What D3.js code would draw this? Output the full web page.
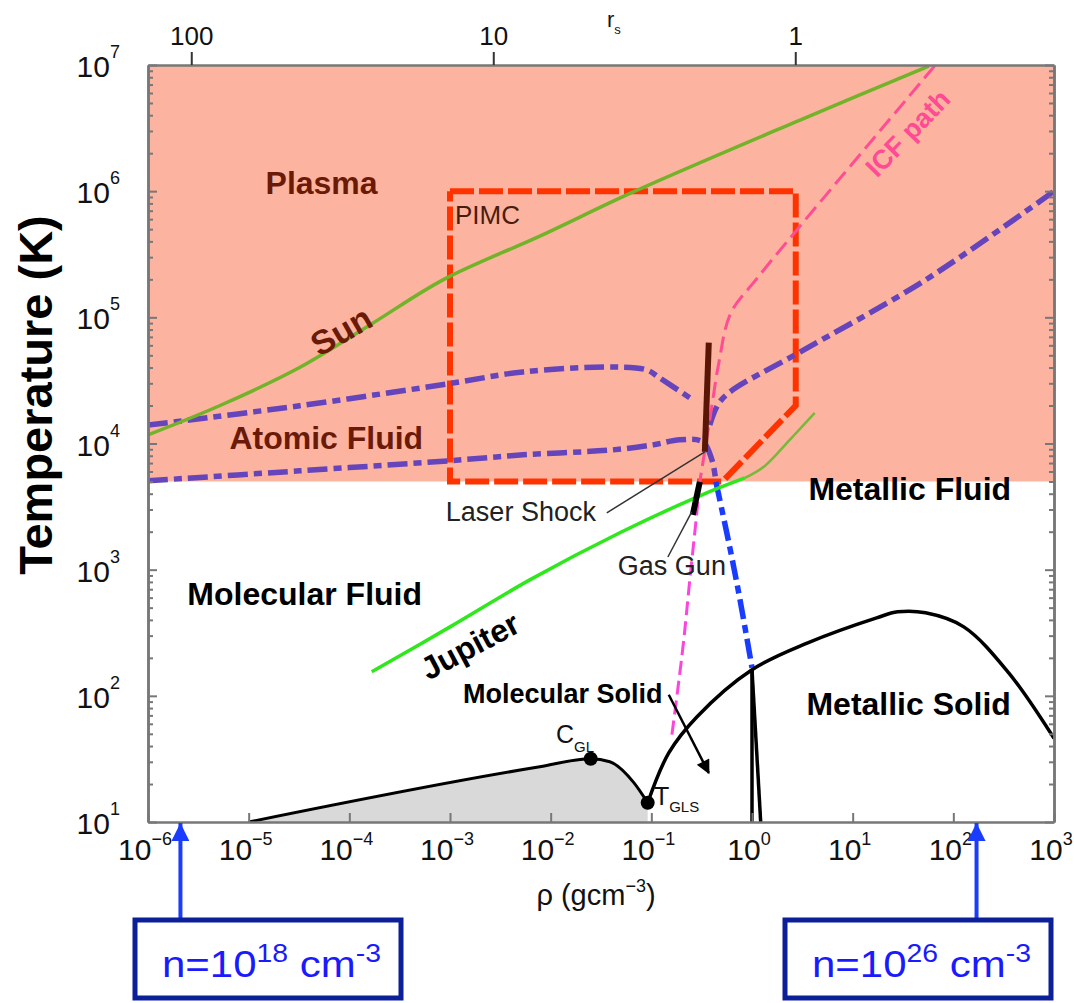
<!DOCTYPE html>
<html>
<head>
<meta charset="utf-8">
<script src="https://cdn.jsdelivr.net/npm/d3@7"></script>
<style>
    body { margin: 0; background: #fff; }
    svg { display: block; font-family: "Liberation Sans", Arial, Helvetica, sans-serif; }
    .brown { fill: #6b1a08; font-weight: bold; font-size: 32px; }
    .bold { fill: #000; font-weight: bold; font-size: 32px; }
    .note { fill: #222; font-size: 26px; }
</style>
</head>
<body>
<div id="phase"></div>
<script>
// axis ticks
var rhoTicks = [1e-6, 1e-5, 1e-4, 1e-3, 1e-2, 1e-1, 1e0, 1e1, 1e2, 1e3];
var tempTicks = [1e1, 1e2, 1e3, 1e4, 1e5, 1e6, 1e7];
var rsTicks = [100, 10, 1];
var rsRho = 2.69;           // rho (g/cc) of hydrogen at rs = 1
var plasmaT = 5000;         // bottom of the shaded plasma / atomic region

// curves, [rho (g/cc), T (K)]
var sunPath = [[1e-6, 1.17e4], [5.2e-6, 2.0e4], [3.2e-5, 4.0e4], [1.6e-4, 8.7e4], [8.7e-4, 2.0e5],
    [7.8e-3, 4.4e5], [0.067, 9.9e5], [3.0, 3.66e6], [57, 9.8e6]];
var jupiterPath = [[1.67e-4, 155], [1.0e-3, 352], [6.2e-3, 830], [0.0486, 1960], [0.303, 3850], [0.85, 5330]];
var jupiterCore = [[0.85, 5330], [1.34, 6640], [2.37, 1.07e4], [4.2, 1.75e4]];
var pimcBox = [[1e-3, 1e6], [2.72, 1e6], [2.72, 2.0e4], [0.51, 5000], [1e-3, 5000], [1e-3, 1e6]];
var icfPath = [[65, 9.8e6], [2.79, 4.93e5], [1.09, 1.98e5], [0.615, 1.08e5], [0.468, 4.35e4],
    [0.39, 1.75e4], [0.332, 7830], [0.303, 4970]];
var icfLow = [[0.303, 4970], [0.283, 2820], [0.241, 830], [0.21, 278], [0.183, 112], [0.16, 49]];
var dissocUpper = [[1e-6, 1.40e4], [3.2e-5, 1.99e4], [9.5e-4, 2.97e4], [5.3e-3, 3.69e4], [0.0415, 4.04e4],
    [0.090, 3.83e4], [0.121, 3.31e4], [0.258, 2.22e4]];
var dissocLower = [[1e-6, 5060], [3.2e-5, 6070], [9.5e-4, 7280], [5.3e-3, 8130], [0.0415, 8900],
    [0.1035, 9750], [0.192, 1.07e4], [0.324, 1.03e4], [0.40, 7410], [0.438, 4970]];
var metalLine = [[0.438, 4970], [0.60, 1520], [0.76, 577], [1.0, 167]];
var ionLine = [[0.381, 1.40e4], [0.457, 2.02e4], [0.603, 2.56e4], [2.99, 5.3e4], [53, 1.98e5], [1000, 1e6]];
var meltCurve = [[0.092, 14.2], [0.149, 35.3], [0.283, 68], [1.0, 161], [3.58, 263], [17.3, 415],
    [28, 463], [53, 455], [127, 352], [355, 152], [1000, 46]];
var coexCurve = [[1e-5, 10], [7.8e-3, 27.4], [0.025, 31.7], [0.0387, 30], [0.067, 20.5], [0.092, 14.2]];
var wedgeLeft = [[1.0, 161], [1.0, 10]];
var wedgeRight = [[1.0, 161], [1.22, 10]];
var laserShock = [[0.372, 6.3e4], [0.34, 8600]];
var gasGun = [[0.303, 4970], [0.258, 2720]];
var critPoints = [[0.025, 31.7], [0.092, 14.2]];
var densityMarks = [2.1e-6, 170];   // n = 1e18 and 1e26 cm^-3

var margin = {top: 65, right: 20, bottom: 181, left: 148};
var width = 1074 - margin.left - margin.right,
    height = 1003 - margin.top - margin.bottom;

var root = d3.select("#phase")
    .append("svg")
    .attr("width", 1074)
    .attr("height", 1003);
var svg = root.append("g")
    .attr("transform", "translate(" + margin.left + "," + margin.top + ")");

var x = d3.scaleLog().domain([1e-6, 1e3]).range([0, width]);
var y = d3.scaleLog().domain([10, 1e7]).range([height, 0]);

var defs = root.append("defs");
defs.append("clipPath").attr("id", "clip")
    .append("rect").attr("width", width).attr("height", height);
defs.append("marker").attr("id", "headBlack")
    .attr("viewBox", "0 0 10 10").attr("refX", 9).attr("refY", 5)
    .attr("markerUnits", "userSpaceOnUse").attr("markerWidth", 18).attr("markerHeight", 14)
    .attr("orient", "auto")
    .append("path").attr("d", "M0,0L10,5L0,10z").attr("fill", "#000");
defs.append("marker").attr("id", "headBlue")
    .attr("viewBox", "0 0 10 10").attr("refX", 10).attr("refY", 5)
    .attr("markerUnits", "userSpaceOnUse").attr("markerWidth", 18).attr("markerHeight", 18)
    .attr("orient", "auto")
    .append("path").attr("d", "M0,0L10,5L0,10z").attr("fill", "#1a3cff");

// shaded plasma/atomic region
svg.append("rect")
    .attr("x", 0).attr("y", 0)
    .attr("width", width)
    .attr("height", y(plasmaT))
    .attr("fill", "#fcb4a0");

var plot = svg.append("g").attr("clip-path", "url(#clip)");

var line = d3.line().x(function (d) { return x(d[0]); }).y(function (d) { return y(d[1]); });
var smooth = d3.line().x(function (d) { return x(d[0]); }).y(function (d) { return y(d[1]); })
    .curve(d3.curveCatmullRom.alpha(0.5));

// gas-liquid coexistence (grey)
plot.append("path")
    .datum(coexCurve)
    .attr("d", d3.area().x(function (d) { return x(d[0]); }).y0(height)
        .y1(function (d) { return y(d[1]); }).curve(d3.curveMonotoneX))
    .attr("fill", "#d9d9d9");
plot.append("path")
    .datum(coexCurve)
    .attr("d", line.curve(d3.curveMonotoneX))
    .attr("fill", "none").attr("stroke", "#000").attr("stroke-width", 3);
line.curve(d3.curveLinear);

function draw(data, gen, color, w, dash) {
    plot.append("path")
        .datum(data)
        .attr("d", gen)
        .attr("fill", "none")
        .attr("stroke", color)
        .attr("stroke-width", w)
        .attr("stroke-dasharray", dash || null);
}

draw(pimcBox, line, "#ff3300", 6, "24,5");
draw(dissocUpper, smooth, "#6644bb", 5.5, "20,6,8,6");
draw(dissocLower, smooth, "#6644bb", 5.5, "20,6,8,6");
draw(ionLine, smooth, "#6644bb", 5.5, "20,6,8,6");
draw(metalLine, smooth, "#1a3cff", 5.5, "20,6,8,6");
draw(sunPath, smooth, "#72b32a", 3.5);
draw(jupiterPath, smooth, "#2ee81c", 3.5);
draw(jupiterCore, smooth, "#78b83a", 2.5);
draw(icfPath, smooth, "#ff4d94", 3, "16,7");
draw(icfLow, smooth, "#ff44dd", 3, "14,6");
draw(meltCurve, smooth, "#000", 3.5);
draw(wedgeLeft, line, "#000", 3.5);
draw(wedgeRight, line, "#000", 3.5);
draw(laserShock, line, "#5a1505", 6);
draw(gasGun, line, "#000", 6);

plot.selectAll("circle.crit")
    .data(critPoints)
    .enter()
    .append("circle")
    .attr("class", "crit")
    .attr("cx", function (d) { return x(d[0]); })
    .attr("cy", function (d) { return y(d[1]); })
    .attr("r", 7)
    .attr("fill", "#000");

// leader lines
svg.append("line")
    .attr("x1", x(0.34)).attr("y1", y(8600))
    .attr("x2", x(0.0361)).attr("y2", y(2820))
    .attr("stroke", "#333").attr("stroke-width", 1.5);
svg.append("line")
    .attr("x1", x(0.252)).attr("y1", y(2870))
    .attr("x2", x(0.146)).attr("y2", y(1260))
    .attr("stroke", "#333").attr("stroke-width", 1.5);
// molecular solid arrow
svg.append("line")
    .attr("x1", x(0.149)).attr("y1", y(102))
    .attr("x2", x(0.372)).attr("y2", y(24.5))
    .attr("stroke", "#000").attr("stroke-width", 2.5)
    .attr("marker-end", "url(#headBlack)");

// axes: ticks point inward
function styleAxis(g) {
    g.select(".domain").attr("stroke", "#777").attr("stroke-width", 2.5);
    g.selectAll(".tick line").attr("stroke", "#777").attr("stroke-width", 2);
}
var minorT = [];
tempTicks.slice(0, -1).forEach(function (d) {
    for (var k = 2; k < 10; k++) minorT.push(d * k);
});

svg.append("g").call(d3.axisLeft(y).tickValues(tempTicks).tickSize(-9).tickSizeOuter(0).tickFormat("")).call(styleAxis);
svg.append("g").call(d3.axisLeft(y).tickValues(minorT).tickSize(-5).tickSizeOuter(0).tickFormat("")).call(styleAxis);
svg.append("g").attr("transform", "translate(" + width + ",0)")
    .call(d3.axisRight(y).tickValues(tempTicks).tickSize(-9).tickSizeOuter(0).tickFormat("")).call(styleAxis);
svg.append("g").attr("transform", "translate(" + width + ",0)")
    .call(d3.axisRight(y).tickValues(minorT).tickSize(-5).tickSizeOuter(0).tickFormat("")).call(styleAxis);
svg.append("g").attr("transform", "translate(0," + height + ")")
    .call(d3.axisBottom(x).tickValues(rhoTicks).tickSize(-9).tickSizeOuter(0).tickFormat("")).call(styleAxis);

// top axis in r_s
var topAxis = svg.append("g")
    .call(d3.axisTop(x)
        .tickValues(rsTicks.map(function (r) { return rsRho / (r * r * r); }))
        .tickSize(13).tickSizeOuter(0).tickPadding(7)
        .tickFormat(function (d, i) { return rsTicks[i]; }))
    .call(styleAxis);
topAxis.selectAll(".tick line").attr("stroke", "#333");
topAxis.selectAll(".tick text").attr("font-size", 26).attr("fill", "#111");

function expText(d) {
    var e = Math.round(Math.log10(d));
    return e < 0 ? "\u2212" + (-e) : String(e);
}

// y tick labels
svg.selectAll(".ylab")
    .data(tempTicks)
    .enter()
    .append("text")
    .attr("class", "ylab")
    .attr("x", -28)
    .attr("y", function (d) { return y(d) + 12; })
    .attr("text-anchor", "end")
    .attr("font-size", 30)
    .attr("fill", "#111")
    .each(function (d) {
        var t = d3.select(this);
        t.append("tspan").text("10");
        t.append("tspan").attr("dy", -19).attr("font-size", 18).text(expText(d));
    });

// x tick labels
svg.selectAll(".xlab")
    .data(rhoTicks)
    .enter()
    .append("text")
    .attr("class", "xlab")
    .attr("x", function (d) { return x(d) - 3; })
    .attr("y", height + 38)
    .attr("text-anchor", "middle")
    .attr("font-size", 30)
    .attr("fill", "#111")
    .each(function (d) {
        var t = d3.select(this);
        t.append("tspan").text("10");
        t.append("tspan").attr("dy", -15).attr("font-size", 18).text(expText(d));
    });

// axis titles
root.append("text")
    .attr("transform", "translate(52,395) rotate(-90)")
    .attr("text-anchor", "middle")
    .attr("font-size", 47)
    .attr("font-weight", "bold")
    .text("Temperature (K)");

var xt = root.append("text")
    .attr("x", 596).attr("y", 905)
    .attr("text-anchor", "middle")
    .attr("font-size", 29)
    .attr("fill", "#111");
xt.append("tspan").text("\u03c1 (gcm");
xt.append("tspan").attr("dy", -13).attr("font-size", 18).text("\u22123");
xt.append("tspan").attr("dy", 13).text(")");

var rs = root.append("text").attr("x", 607).attr("y", 27).attr("font-size", 22).attr("fill", "#111");
rs.append("tspan").text("r");
rs.append("tspan").attr("dy", 7).attr("font-size", 13).text("s");

// region labels placed in data coordinates
function label(txt, rho, T, cls, angle, anchor) {
    var t = svg.append("text")
        .attr("class", cls)
        .attr("text-anchor", anchor || "middle")
        .attr("transform", "translate(" + x(rho) + "," + y(T) + ")" + (angle ? " rotate(" + angle + ")" : ""))
        .text(txt);
    if (angle) t.attr("dy", "0.35em");
    return t;
}
label("Plasma", 5.3e-5, 9.5e5, "brown");
label("Atomic Fluid", 5.9e-5, 9060, "brown");
label("Sun", 8.3e-5, 7.8e4, "brown", -30).style("font-size", "34px");
label("PIMC", 1.12e-3, 5.5e5, "note", 0, "start").style("fill", "#4a1c10");
label("ICF path", 35.2, 2.89e6, "bold", -46).style("font-size", "27px").style("fill", "#ff4a94");
label("Metallic Fluid", 36.9, 3570, "bold");
label("Molecular Fluid", 3.6e-5, 526, "bold");
label("Jupiter", 1.58e-3, 249, "bold", -28);
label("Molecular Solid", 0.0132, 88, "bold").style("font-size", "27px");
label("Metallic Solid", 36, 70.6, "bold");
label("Laser Shock", 5.06e-3, 2440, "note").style("font-size", "27px");
label("Gas Gun", 0.16, 910, "note").style("font-size", "27px");

var cgl = label("C", 0.0113, 42.5, "note", 0, "start").style("font-size", "25px").style("fill", "#111");
cgl.append("tspan").attr("dy", 9).style("font-size", "15px").text("GL");
var tgls = label("T", 0.106, 13.7, "note", 0, "start").style("font-size", "25px").style("fill", "#111");
tgls.append("tspan").attr("dy", 7).style("font-size", "15px").text("GLS");

// number density call-outs
var boxes = [
    {rho: densityMarks[0], left: 135, sup: "18"},
    {rho: densityMarks[1], left: 785, sup: "26"}
];
boxes.forEach(function (b) {
    root.append("line")
        .attr("x1", margin.left + x(b.rho)).attr("y1", 920)
        .attr("x2", margin.left + x(b.rho)).attr("y2", margin.top + height + 1)
        .attr("stroke", "#1a3cff").attr("stroke-width", 4)
        .attr("marker-end", "url(#headBlue)");
    root.append("rect")
        .attr("x", b.left).attr("y", 920)
        .attr("width", 266).attr("height", 78)
        .attr("fill", "#fff")
        .attr("stroke", "#0b1f99").attr("stroke-width", 5);
    var t = root.append("text")
        .attr("x", b.left + 27).attr("y", 977)
        .attr("font-size", 37)
        .attr("fill", "#1a1aff")
        .attr("textLength", 219)
        .attr("lengthAdjust", "spacingAndGlyphs");
    t.append("tspan").text("n=10");
    t.append("tspan").attr("dy", -15).attr("font-size", 25).text(b.sup);
    t.append("tspan").attr("dy", 15).text(" cm");
    t.append("tspan").attr("dy", -15).attr("font-size", 25).text("-3");
});
</script>
</body>
</html>
